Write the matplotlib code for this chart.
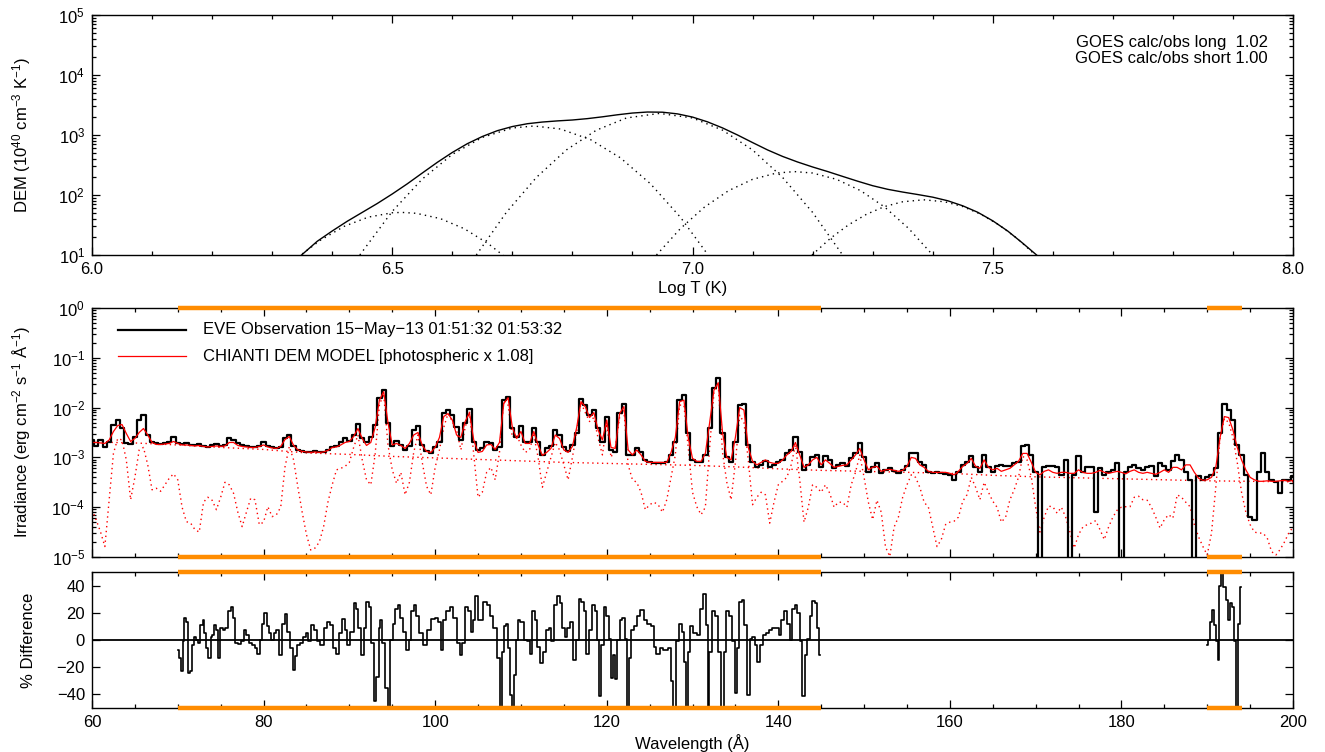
import numpy as np
import matplotlib
matplotlib.use("Agg")
import matplotlib.pyplot as plt
from matplotlib.ticker import MultipleLocator, LogLocator, NullFormatter, FixedLocator, FormatStrFormatter

plt.rcParams['font.family'] = ['Liberation Sans', 'DejaVu Sans']
plt.rcParams['mathtext.fontset'] = 'custom'
plt.rcParams['mathtext.rm'] = 'Liberation Sans'
plt.rcParams['mathtext.it'] = 'Liberation Sans:italic'
plt.rcParams['mathtext.bf'] = 'Liberation Sans:bold'
plt.rcParams['mathtext.default'] = 'regular'

# ---------------- DEM panel data (log10 T, log10 DEM) ----------------
dem_total_logt = [6.349, 6.375, 6.40, 6.425, 6.45, 6.475, 6.50, 6.525, 6.55, 6.575, 6.60, 6.625,
                  6.65, 6.675, 6.70, 6.725, 6.75, 6.775, 6.80, 6.825, 6.85, 6.875, 6.90, 6.925,
                  6.95, 6.975, 7.00, 7.025, 7.05, 7.075, 7.10, 7.125, 7.15, 7.175, 7.20, 7.225,
                  7.25, 7.275, 7.30, 7.325, 7.35, 7.375, 7.40, 7.425, 7.45, 7.475, 7.50, 7.525,
                  7.55, 7.573]
dem_total_log = [1.00, 1.228, 1.40, 1.562, 1.71, 1.858, 2.017, 2.186, 2.366, 2.544, 2.709, 2.855,
                 2.975, 3.072, 3.141, 3.188, 3.216, 3.235, 3.25, 3.273, 3.303, 3.337, 3.366, 3.383,
                 3.38, 3.352, 3.299, 3.219, 3.118, 3.0, 2.874, 2.751, 2.643, 2.55, 2.467, 2.391,
                 2.31, 2.23, 2.155, 2.095, 2.049, 2.008, 1.964, 1.904, 1.82, 1.712, 1.57, 1.399,
                 1.196, 1.00]

comp1_logt = [6.35, 6.38, 6.42, 6.46, 6.50, 6.516, 6.54, 6.58, 6.62, 6.66, 6.685]
comp1_log = [1.017, 1.244, 1.478, 1.631, 1.704, 1.71, 1.695, 1.607, 1.438, 1.188, 0.991]
comp2_logt = [6.446, 6.50, 6.55, 6.60, 6.65, 6.70, 6.736, 6.78, 6.83, 6.88, 6.93, 6.98, 7.026]
comp2_log = [1.0, 1.727, 2.266, 2.677, 2.96, 3.117, 3.15, 3.10, 2.924, 2.619, 2.187, 1.628, 1.0]
comp3_logt = [6.64, 6.69, 6.74, 6.79, 6.84, 6.89, 6.945, 7.00, 7.05, 7.10, 7.15, 7.20, 7.25]
comp3_log = [1.0, 1.71, 2.293, 2.751, 3.081, 3.284, 3.36, 3.284, 3.081, 2.751, 2.293, 1.71, 1.0]
comp4_logt = [6.94, 6.98, 7.02, 7.06, 7.10, 7.14, 7.17, 7.20, 7.24, 7.28, 7.32, 7.36, 7.40]
comp4_log = [1.0, 1.442, 1.799, 2.072, 2.261, 2.366, 2.39, 2.366, 2.261, 2.072, 1.799, 1.442, 1.0]
comp5_logt = [7.199, 7.23, 7.26, 7.29, 7.32, 7.35, 7.385, 7.42, 7.45, 7.48, 7.51, 7.54, 7.571]
comp5_log = [1.0, 1.281, 1.504, 1.68, 1.808, 1.887, 1.92, 1.887, 1.808, 1.68, 1.504, 1.281, 1.0]

goes_text = ["GOES calc/obs long  1.02", "GOES calc/obs short 1.00"]

# ---------------- Spectrum data: 0.5 A grid from 60 to 200 A, log10 irradiance ----------------
obs_log = [
    -2.65, -2.78, -2.66, -2.80, -2.70, -2.35, -2.25, -2.40, -2.72, -2.74,   # 60
    -2.60, -2.25, -2.15, -2.55, -2.70, -2.72, -2.74, -2.72, -2.70, -2.60,   # 65
    -2.72, -2.74, -2.72, -2.75, -2.76, -2.74, -2.78, -2.80, -2.76, -2.74,   # 70
    -2.77, -2.75, -2.62, -2.65, -2.72, -2.76, -2.78, -2.80, -2.80, -2.77,   # 75
    -2.70, -2.78, -2.80, -2.82, -2.80, -2.62, -2.55, -2.78, -2.86, -2.88,   # 80
    -2.90, -2.90, -2.88, -2.90, -2.90, -2.86, -2.80, -2.78, -2.70, -2.62,   # 85
    -2.68, -2.55, -2.32, -2.62, -2.70, -2.60, -2.35, -1.80, -1.64, -2.30,   # 90
    -2.78, -2.68, -2.75, -2.85, -2.78, -2.45, -2.37, -2.75, -2.88, -2.92,   # 95
    -2.80, -2.70, -2.10, -2.05, -2.15, -2.38, -2.65, -2.30, -2.02, -2.70,   # 100
    -2.85, -2.82, -2.70, -2.72, -2.85, -2.80, -1.85, -1.78, -2.40, -2.60,   # 105
    -2.36, -2.70, -2.70, -2.40, -2.70, -2.95, -2.82, -2.78, -2.45, -2.55,   # 110
    -2.80, -2.88, -2.75, -2.50, -1.82, -1.95, -2.15, -2.05, -2.40, -2.70,   # 115
    -2.18, -2.85, -2.90, -2.10, -1.92, -2.95, -2.95, -2.82, -2.90, -3.05,   # 120
    -3.10, -3.12, -3.12, -3.12, -3.10, -2.95, -2.70, -1.85, -1.75, -2.52,   # 125
    -3.05, -3.10, -3.10, -2.95, -2.40, -1.60, -1.40, -2.50, -3.00, -3.10,   # 130
    -2.70, -1.95, -1.92, -2.75, -3.10, -3.20, -3.15, -3.08, -3.20, -3.15,   # 135
    -3.10, -3.05, -2.92, -2.85, -2.60, -2.90, -3.25, -3.15, -3.00, -2.95,   # 140
    -3.20, -2.97, -3.05, -3.22, -3.15, -3.12, -3.18, -3.02, -2.92, -2.72,   # 145
    -3.00, -3.30, -3.20, -3.12, -3.32, -3.25, -3.22, -3.28, -3.32, -3.25,   # 150
    -3.18, -2.92, -2.92, -3.10, -3.15, -3.30, -3.32, -3.30, -3.32, -3.33,   # 155
    -3.35, -3.45, -3.30, -3.15, -3.10, -2.97, -3.20, -3.30, -2.96, -3.20,   # 160
    -3.30, -3.18, -3.15, -3.18, -3.18, -3.12, -3.10, -2.78, -2.76, -2.95,   # 165
    -3.30, -5.50, -3.20, -3.18, -3.18, -3.20, -3.35, -3.05, -5.50, -3.35,   # 170
    -2.98, -3.30, -3.20, -3.20, -4.10, -3.22, -3.35, -3.30, -3.25, -3.12,   # 175
    -5.50, -3.30, -3.20, -3.15, -3.22, -3.25, -3.20, -3.18, -3.38, -3.12,   # 180
    -3.18, -3.25, -3.08, -2.95, -3.05, -3.30, -3.45, -5.50, -3.38, -3.45,   # 185
    -3.40, -3.35, -3.22, -2.50, -1.93, -2.05, -2.25, -2.75, -2.95, -3.35,   # 190
    -4.19, -4.25, -3.30, -2.92, -3.30, -3.45, -3.50, -3.72, -3.45, -3.45,   # 195
    -3.38]                                                                  # 200

model_log = [
    -2.70, -2.70, -2.71, -2.72, -2.65, -2.48, -2.36, -2.34, -2.52, -2.68,   # 60
    -2.62, -2.50, -2.42, -2.55, -2.70, -2.74, -2.74, -2.73, -2.72, -2.68,   # 65
    -2.72, -2.75, -2.75, -2.76, -2.77, -2.76, -2.78, -2.79, -2.78, -2.77,   # 70
    -2.78, -2.77, -2.70, -2.70, -2.76, -2.78, -2.79, -2.80, -2.80, -2.78,   # 75
    -2.75, -2.79, -2.81, -2.82, -2.78, -2.64, -2.58, -2.76, -2.85, -2.88,   # 80
    -2.89, -2.90, -2.89, -2.90, -2.89, -2.86, -2.80, -2.79, -2.75, -2.70,   # 85
    -2.68, -2.58, -2.42, -2.62, -2.76, -2.70, -2.40, -1.85, -1.68, -2.30,   # 90
    -2.75, -2.72, -2.76, -2.82, -2.72, -2.55, -2.50, -2.76, -2.88, -2.90,   # 95
    -2.80, -2.60, -2.18, -2.12, -2.25, -2.55, -2.60, -2.28, -2.10, -2.65,   # 100
    -2.90, -2.88, -2.75, -2.74, -2.84, -2.70, -1.92, -1.80, -2.40, -2.62,   # 105
    -2.48, -2.72, -2.72, -2.48, -2.75, -2.96, -2.90, -2.82, -2.55, -2.62,   # 110
    -2.85, -2.90, -2.78, -2.40, -1.88, -1.98, -2.20, -2.10, -2.45, -2.65,   # 115
    -2.25, -2.80, -2.82, -2.12, -1.98, -2.85, -2.95, -2.85, -2.95, -3.08,   # 120
    -3.10, -3.10, -3.10, -3.10, -3.10, -2.90, -2.60, -1.88, -1.85, -2.60,   # 125
    -3.02, -3.08, -3.08, -2.92, -2.30, -1.65, -1.50, -2.50, -3.00, -3.05,   # 130
    -2.60, -2.00, -2.05, -2.80, -3.08, -3.15, -3.10, -3.05, -3.10, -3.12,   # 135
    -3.12, -3.05, -2.95, -2.88, -2.70, -2.95, -3.20, -3.15, -3.05, -3.00,   # 140
    -3.15, -3.05, -3.12, -3.20, -3.18, -3.16, -3.15, -3.05, -2.95, -2.82,   # 145
    -3.05, -3.25, -3.20, -3.18, -3.28, -3.25, -3.24, -3.26, -3.28, -3.26,   # 150
    -3.18, -3.00, -3.02, -3.15, -3.20, -3.28, -3.30, -3.30, -3.30, -3.30,   # 155
    -3.32, -3.35, -3.28, -3.18, -3.12, -3.02, -3.18, -3.22, -3.05, -3.20,   # 160
    -3.25, -3.22, -3.28, -3.25, -3.22, -3.15, -3.08, -2.92, -2.92, -3.10,   # 165
    -3.30, -3.35, -3.28, -3.25, -3.30, -3.32, -3.30, -3.30, -3.32, -3.32,   # 170
    -3.25, -3.30, -3.32, -3.32, -3.30, -3.26, -3.30, -3.32, -3.30, -3.28,   # 175
    -3.30, -3.33, -3.28, -3.25, -3.30, -3.32, -3.30, -3.32, -3.34, -3.30,   # 180
    -3.25, -3.30, -3.20, -3.20, -3.25, -3.15, -3.15, -3.30, -3.42, -3.46,   # 185
    -3.45, -3.40, -3.20, -2.60, -2.18, -2.20, -2.45, -2.80, -3.05, -3.25,   # 190
    -3.40, -3.45, -3.48, -3.48, -3.47, -3.48, -3.48, -3.47, -3.46, -3.48,   # 195
    -3.46]                                                                  # 200

lines_log = [
    -4.05, -4.26, -4.50, -4.79, -3.85, -2.92, -2.62, -2.65, -3.05, -3.85,   # 60
    -3.40, -2.85, -2.80, -3.15, -3.65, -3.62, -3.68, -3.55, -3.42, -3.33,   # 65
    -3.45, -4.00, -4.29, -4.32, -4.45, -4.50, -3.90, -3.80, -3.86, -4.05,   # 70
    -3.80, -3.50, -3.55, -3.72, -4.10, -4.39, -4.10, -3.82, -3.85, -4.35,   # 75
    -4.30, -3.99, -4.19, -4.15, -4.00, -3.19, -2.78, -3.05, -3.60, -4.10,   # 80
    -4.55, -4.86, -4.82, -4.70, -4.39, -3.90, -3.55, -3.25, -3.22, -3.18,   # 85
    -3.10, -2.80, -2.55, -3.05, -3.45, -3.55, -2.95, -1.95, -1.72, -2.75,   # 90
    -3.25, -3.52, -3.30, -3.75, -3.50, -2.90, -2.55, -3.10, -3.58, -3.75,   # 95
    -3.20, -2.85, -2.40, -2.12, -2.28, -2.45, -2.85, -2.40, -2.08, -2.95,   # 100
    -3.80, -3.70, -3.30, -3.20, -3.45, -2.90, -1.85, -1.95, -2.60, -2.55,   # 105
    -2.75, -2.90, -2.85, -2.55, -3.00, -3.60, -3.30, -3.00, -2.70, -2.85,   # 110
    -3.15, -3.45, -3.00, -2.50, -1.90, -2.10, -2.28, -2.20, -2.62, -2.95,   # 115
    -2.32, -3.00, -2.80, -2.20, -2.05, -3.15, -3.45, -3.50, -3.70, -4.05,   # 120
    -3.95, -3.90, -3.95, -4.10, -3.85, -3.40, -2.95, -1.95, -1.95, -2.80,   # 125
    -3.70, -3.99, -4.15, -4.00, -2.80, -1.70, -1.55, -2.90, -3.50, -3.85,   # 130
    -3.10, -2.15, -2.30, -3.05, -3.95, -3.80, -3.70, -3.75, -4.32, -3.90,   # 135
    -3.55, -3.48, -3.40, -3.15, -2.75, -3.45, -4.30, -4.00, -3.55, -3.60,   # 140
    -3.70, -3.55, -3.72, -4.00, -3.90, -3.90, -4.00, -3.55, -3.30, -2.95,   # 145
    -3.40, -3.90, -4.25, -3.86, -4.10, -4.80, -4.99, -4.40, -4.20, -3.80,   # 150
    -3.55, -3.35, -3.40, -3.60, -3.90, -4.00, -4.40, -4.79, -4.65, -4.35,   # 155
    -4.30, -4.28, -4.20, -3.88, -3.75, -3.40, -3.60, -3.85, -3.50, -3.70,   # 160
    -3.88, -4.00, -4.30, -4.20, -3.85, -3.65, -3.40, -2.98, -3.05, -3.40,   # 165
    -4.00, -4.50, -4.20, -3.98, -3.99, -4.12, -4.00, -4.20, -4.50, -4.82,   # 170
    -4.55, -4.40, -4.35, -4.32, -4.27, -4.45, -4.65, -4.40, -4.20, -4.06,   # 175
    -4.00, -3.99, -3.99, -3.80, -3.78, -3.85, -3.86, -4.00, -4.20, -4.42,   # 180
    -4.25, -4.15, -4.22, -3.75, -3.80, -3.90, -3.99, -4.35, -4.60, -4.79,   # 185
    -4.96, -4.52, -3.60, -2.60, -2.22, -2.30, -2.60, -3.10, -3.70, -4.10,   # 190
    -4.35, -4.50, -4.52, -4.52, -4.62, -4.89, -4.96, -4.85, -4.70, -4.52,   # 195
    -4.40]                                                                  # 200

cont_wave = [60, 65, 70, 75, 80, 85, 90, 95, 100, 105, 110, 115, 120, 125, 130, 135, 140,
             145, 150, 155, 160, 165, 170, 175, 180, 185, 190, 195, 200]
cont_log = [-2.69, -2.71, -2.75, -2.80, -2.84, -2.91, -2.94, -2.98, -3.01, -3.04, -3.07, -3.10,
            -3.12, -3.14, -3.16, -3.19, -3.23, -3.26, -3.28, -3.30, -3.32, -3.36, -3.39, -3.41,
            -3.43, -3.45, -3.47, -3.48, -3.49]

fit_ranges = [(70.0, 145.0), (190.0, 194.0)]

legend_labels = ["EVE Observation 15\u2212May\u221213 01:51:32 01:53:32",
                 "CHIANTI DEM MODEL [photospheric x 1.08]"]

# ---------------- % difference data ----------------
diff1_wave = [70.0, 70.25, 70.45, 70.65, 70.85, 71.1, 71.3, 71.5, 71.8, 72.0, 72.2, 72.4, 72.8, 73.0,
              73.2, 73.4, 73.7, 73.95, 74.1, 74.4, 74.6, 74.8, 75.1, 75.4, 75.7, 76.0, 76.3, 76.55,
              76.9, 77.25, 77.6, 77.8, 78.1, 78.4, 78.8, 79.1, 79.4, 79.7, 79.97, 80.2, 80.5, 80.75,
              81.05, 81.3, 81.6, 81.9, 82.3, 82.6, 82.9, 83.3, 83.55, 83.8, 84.05, 84.4, 84.8, 85.0,
              85.3, 85.7, 86.0, 86.4, 86.8, 87.2, 87.55, 87.9, 88.3, 88.6, 88.9, 89.3, 89.6, 89.9,
              90.3, 90.7, 90.9, 91.2, 91.55, 91.8, 92.1, 92.4, 92.7, 93.0, 93.3, 93.5, 93.65, 93.95,
              94.35, 94.6, 94.9, 95.2, 95.5, 95.8, 96.1, 96.5, 96.8, 97.0, 97.4, 97.65, 97.9, 98.3,
              98.8, 99.2, 99.8, 100.2, 100.5, 100.8, 101.0, 101.5, 101.9, 102.3, 102.7, 103.0, 103.3,
              103.7, 104.0, 104.3, 104.5, 104.85, 105.2, 105.4, 105.8, 106.2, 106.6, 107.0, 107.5,
              107.65, 107.9, 108.1, 108.4, 108.65, 108.9, 109.1, 109.3, 109.5, 109.8, 110.1, 110.5,
              110.9, 111.1, 111.45, 111.8, 112.0, 112.4, 112.7, 113.1, 113.4, 113.7, 114.1, 114.4,
              114.6, 114.95, 115.26, 115.5, 115.9, 116.3, 116.6, 116.9, 117.2, 117.5, 117.75, 118.06,
              118.45, 118.75, 119.0, 119.2, 119.5, 119.8, 120.1, 120.4, 120.6, 120.85, 121.1, 121.4,
              121.7, 121.95, 122.3, 122.45, 122.7, 123.0, 123.3, 123.7, 124.1, 124.5, 125.0, 125.4,
              125.6, 126.0, 126.4, 126.8, 127.4, 127.6, 127.85, 128.2, 128.6, 128.9, 129.1, 129.3,
              129.6, 129.9, 130.3, 130.7, 131.0, 131.35, 131.7, 131.85, 132.1, 132.4, 132.8, 133.2,
              133.5, 133.8, 134.1, 134.4, 134.8, 135.1, 135.35, 135.6, 135.9, 136.2, 136.5, 136.8,
              137.1, 137.4, 137.7, 138.0, 138.35, 138.7, 139.05, 139.4, 139.9, 140.2, 140.5, 140.9,
              141.2, 141.45, 141.8, 142.1, 142.35, 142.6, 142.9, 143.25, 143.5, 143.8, 144.1, 144.4,
              144.7, 144.9]
diff1_pct = [-7, -13.5, -23, -1, 16, 13.5, -24.5, -23, -4, 2.5, 0, -2.5, 11, 15,
             5, -6, -13.5, 2.5, 3.5, 11, 7, -13, 8.5, 7, 8.5, 21, 24.5, 16,
             -2.5, -3, -1, 7, 3.5, -2.5, -4, -6, -10, 0, 12, 19.5, 10, 5,
             0, 5, 7, -11, 12, 19, 6, -6, -22, -12, -4, -2.5, 2.5, 5,
             -1, 11, 7, -1, -4, 8.5, 13, 11, -6, -10, 5, 15.5, 7, -4,
             6, 27, 23, 8.5, -11, 8.5, 28, 24.5, -2.5, -45, -27, 8.5, 15, -2.5,
             -35.5, -60, 0, 12, 23, 26, 16, 6, -7, 0, 21, 26, 18, 5,
             -4, 7, 15.5, 16, 13.5, -7, 15, 21, 24, 16, -2.5, -11, -2.5,
             24.5, 21, 6, 15, 32, 15, 15, 28, 26, 18, 8.5, -13.5,
             -60, -8.5, 10, 12, -6, -40.5, -60, -25.5, 0, 15, 13.5, 0,
             -1, -10, 21, 15, -5, -17, -8.5, 7, 8.5, -1, 26, 32.5,
             27, 8.5, 2.5, 8.5, 13.5, -14.7, 0, 30.5, 28, 21, -10, 7,
             26, 21, 0, -41.5, -4, 24.5, 18, 1, -28, -11, -29, 0,
             15, 16.5, 1, -49, -13.5, 7, 10, 18, 22, 15, 12, 10,
             -5, -10, -6, -7, -6, -30.5, -60, -1, 12, 6, -16, -60,
             -8.5, 10, 5, 3.5, 23, 34, 11, -60, -8.5, 21, 18, -8.5,
             -60, -8.5, 21, 18, -1, -39, -6, 28, 29.5, 11, -40.5, 1,
             2.5, -4, -16, -4, 3.5, 5, 7, 8.5, 8.5, 3.5, 15, 21,
             12, 0, 23, 26, 19.5, -1, -41.5, -11, 1, 18, 28.5, 27,
             8.5, -11]

diff2_wave = [190.0, 190.25, 190.5, 190.7, 190.9, 191.1, 191.3, 191.5, 191.7, 192.0, 192.3, 192.5,
              192.7, 193.0, 193.25, 193.45, 193.7, 193.9]
diff2_pct = [-4, 0, 13.5, 22, 11, -1, -14.7, 40, 60, 39, 29.5, 15, 27, 24.5, -1, -49, 12, 39]

ORANGE = '#ff8c00'
FS = 12

# ---------------- figure ----------------
fig = plt.figure(figsize=(13.25, 7.52), dpi=100)
L, W = 92 / 1325, 1201 / 1325
ax1 = fig.add_axes([L, 1 - 255 / 752, W, 240 / 752])
ax2 = fig.add_axes([L, 1 - 557 / 752, W, 249 / 752])
ax3 = fig.add_axes([L, 1 - 708 / 752, W, 136 / 752])


def style(ax):
    ax.tick_params(which='both', direction='in', top=True, right=True, labelsize=FS,
                   width=0.9, colors='black', pad=5)
    ax.tick_params(which='major', length=6)
    ax.tick_params(which='minor', length=3)
    for s in ax.spines.values():
        s.set_linewidth(1.0)


# --- top DEM panel
p = lambda a: 10 ** np.asarray(a, dtype=float)
ax1.plot(dem_total_logt, p(dem_total_log), color='black', lw=1.0)
for xs, ys in [(comp1_logt, comp1_log), (comp2_logt, comp2_log), (comp3_logt, comp3_log),
               (comp4_logt, comp4_log), (comp5_logt, comp5_log)]:
    ax1.plot(xs, p(ys), color='black', lw=1.0, linestyle=(0, (1, 3)))
ax1.set_yscale('log')
ax1.set_xlim(6.0, 8.0)
ax1.set_ylim(10, 1e5)
ax1.xaxis.set_major_locator(MultipleLocator(0.5))
ax1.xaxis.set_minor_locator(MultipleLocator(0.1))
ax1.xaxis.set_major_formatter(FormatStrFormatter('%.1f'))
ax1.yaxis.set_major_locator(LogLocator(base=10, numticks=10))
ax1.yaxis.set_minor_locator(LogLocator(base=10, subs=np.arange(2, 10), numticks=20))
ax1.yaxis.set_minor_formatter(NullFormatter())
style(ax1)
ax1.set_xlabel('Log T (K)', fontsize=FS, labelpad=3)
ax1.set_ylabel('DEM (10$^{40}$ cm$^{-3}$ K$^{-1}$)', fontsize=FS)
ax1.yaxis.set_label_coords(-0.049, 0.5)
ax1.text(0.979, 0.8875, goes_text[0], transform=ax1.transAxes, ha='right', va='center', fontsize=FS)
ax1.text(0.979, 0.8175, goes_text[1], transform=ax1.transAxes, ha='right', va='center', fontsize=FS)

# --- middle spectrum panel
wave = 60 + 0.5 * np.arange(len(obs_log))
wave_m = 60 + 0.5 * np.arange(len(model_log))
wave_l = 60 + 0.5 * np.arange(len(lines_log))
ax2.plot(wave_l, p(lines_log), color='red', lw=1.0, linestyle=(0, (1, 2.5)))
ax2.plot(cont_wave, p(cont_log), color='red', lw=1.0, linestyle=(0, (1, 2.5)))
ax2.plot(wave, p(obs_log), color='black', lw=1.6, drawstyle='steps-mid')
ax2.plot(wave_m, p(model_log), color='red', lw=0.9)
ax2.set_yscale('log')
ax2.set_xlim(60, 200)
ax2.set_ylim(1e-5, 1)
ax2.xaxis.set_major_locator(MultipleLocator(20))
ax2.xaxis.set_minor_locator(MultipleLocator(5))
ax2.yaxis.set_major_locator(LogLocator(base=10, numticks=10))
ax2.yaxis.set_minor_locator(LogLocator(base=10, subs=np.arange(2, 10), numticks=20))
ax2.yaxis.set_minor_formatter(NullFormatter())
style(ax2)
ax2.tick_params(labelbottom=False)
ax2.set_ylabel('Irradiance (erg cm$^{-2}$ s$^{-1}$ \u00c5$^{-1}$)', fontsize=FS)
ax2.yaxis.set_label_coords(-0.049, 0.5)
for (a, b) in fit_ranges:
    for yv in (1.0, 1e-5):
        ax2.plot([a, b], [yv, yv], color=ORANGE, lw=3.2, solid_capstyle='butt', clip_on=False, zorder=5)
# legend
ax2.plot([0.0216, 0.0783], [0.912, 0.912], transform=ax2.transAxes, color='black', lw=1.6)
ax2.plot([0.0216, 0.0783], [0.807, 0.807], transform=ax2.transAxes, color='red', lw=0.9)
ax2.text(0.0925, 0.912, legend_labels[0], transform=ax2.transAxes, va='center', ha='left', fontsize=FS)
ax2.text(0.0925, 0.807, legend_labels[1], transform=ax2.transAxes, va='center', ha='left', fontsize=FS)

# --- bottom % difference panel
ax3.axhline(0, color='black', lw=1.3)
ax3.plot(diff1_wave, diff1_pct, color='black', lw=1.2, drawstyle='steps-mid')
ax3.plot(diff2_wave, diff2_pct, color='black', lw=1.2, drawstyle='steps-mid')
ax3.set_xlim(60, 200)
ax3.set_ylim(-50, 50)
ax3.xaxis.set_major_locator(MultipleLocator(20))
ax3.xaxis.set_minor_locator(MultipleLocator(5))
ax3.yaxis.set_major_locator(FixedLocator([-40, -20, 0, 20, 40]))
style(ax3)
ax3.yaxis.set_major_formatter(matplotlib.ticker.FuncFormatter(lambda v, pos: ('%d' % v).replace('-', '\u2212')))
ax3.set_xlabel('Wavelength (\u00c5)', fontsize=FS, labelpad=3)
ax3.set_ylabel('% Difference', fontsize=FS)
ax3.yaxis.set_label_coords(-0.047, 0.5)
for (a, b) in fit_ranges:
    for yv in (50, -50):
        ax3.plot([a, b], [yv, yv], color=ORANGE, lw=3.2, solid_capstyle='butt', clip_on=False, zorder=5)

fig.savefig('out.png', dpi=100)
